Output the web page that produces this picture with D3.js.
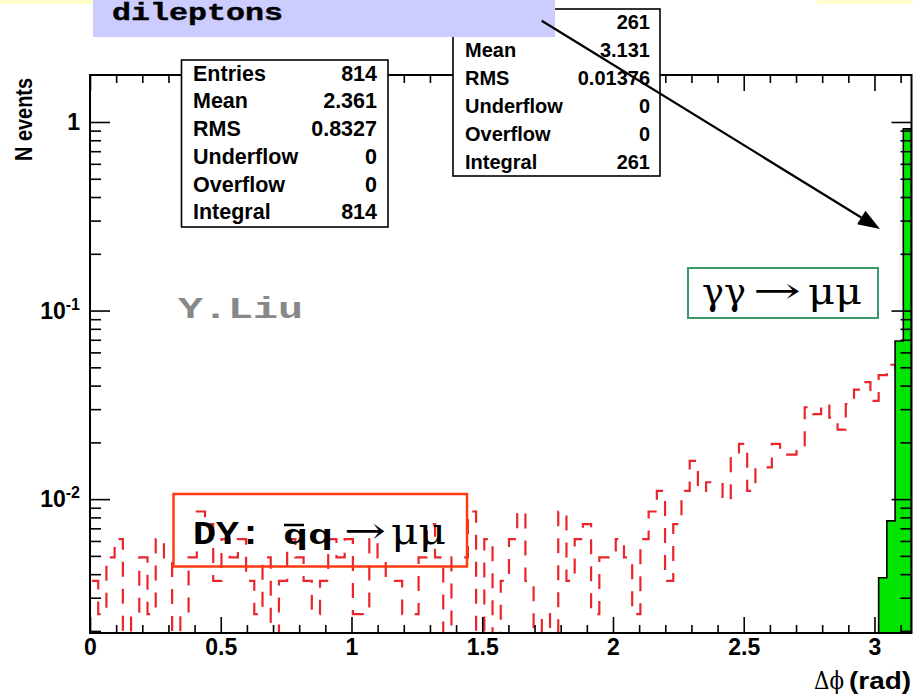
<!DOCTYPE html>
<html>
<head>
<meta charset="utf-8">
<script src="https://cdn.jsdelivr.net/npm/d3@7/dist/d3.min.js"></script>
<style>
  html, body { margin: 0; padding: 0; background: #fff; }
  svg { display: block; }
</style>
</head>
<body>
<svg id="chart" width="913" height="694"></svg>
<script>
// Azimuthal opening angle of the muon pair, 100 bins over [0, pi]
const nBins = 100;

// Drell-Yan qq -> mumu : bin contents (events per bin)
const dyCounts = [
  3, 2, 4, 5, 0, 2, 4, 2, 5, 4,
  0, 2, 4, 7, 6, 3, 5, 4, 5, 3,
  2, 4, 0, 3, 5, 4, 3, 2, 3, 5,
  4, 5, 2, 2, 5, 4, 3, 3, 2, 2,
  4, 6, 4, 0, 4, 4, 7, 0, 5, 0,
  3, 5, 7, 3, 0, 2, 0, 7, 3, 5,
  6, 2, 4, 4, 5, 4, 2, 5, 7, 9,
  3, 6, 9, 13, 9, 10, 10, 8, 14, 16,
  9, 12, 12, 16, 14, 14, 15, 25, 23, 26,
  22, 19, 26, 31, 34, 27, 37, 42, 40, 38
];
const dyEntries = 814;

// gamma gamma -> mumu : only the last bins are filled
const ggFirstBin = 96;
const ggCounts = [1, 2, 18, 240];
const ggEntries = 261;

// axis ticks
const xMajorTicks = [0, 0.5, 1, 1.5, 2, 2.5, 3];
const xTickLabels = ["0", "0.5", "1", "1.5", "2", "2.5", "3"];
const yMajorTicks = [1, 0.1, 0.01];
const yTickBase = ["1", "10", "10"];
const yTickExp = ["", "-1", "-2"];

// statistics boxes
const dyStatNames = ["Entries", "Mean", "RMS", "Underflow", "Overflow", "Integral"];
const dyStatValues = ["814", "2.361", "0.8327", "0", "0", "814"];
const ggStatNames = ["Entries", "Mean", "RMS", "Underflow", "Overflow", "Integral"];
const ggStatValues = ["261", "3.131", "0.01376", "0", "0", "261"];

const svg = d3.select("#chart");
const F = { l: 90, r: 911.5, t: 75, b: 633 };
const x = d3.scaleLinear().domain([0, Math.PI]).range([F.l, F.r]);
const y = d3.scaleLog().domain([0.00195, 1.775]).range([F.b, F.t]);

const sans = '"Liberation Sans", Arial, Helvetica, sans-serif';
const mono = '"Liberation Mono", "DejaVu Sans Mono", monospace';
const serif = '"DejaVu Serif", "Liberation Serif", serif';

// header strips
svg.append("rect").attr("x", 0).attr("y", 0).attr("width", 913).attr("height", 694).attr("fill", "#fff");
svg.append("rect").attr("x", 0).attr("y", 0).attr("width", 100).attr("height", 4).attr("fill", "#ffffcc");
svg.append("rect").attr("x", 817).attr("y", 0).attr("width", 96).attr("height", 4).attr("fill", "#ffffcc");

const binLo = i => i * Math.PI / nBins;
const yClamp = v => (v > 0 ? Math.min(F.b, y(v)) : F.b);

function outline(counts, entries, first) {
  const p = d3.path();
  p.moveTo(x(binLo(first)), F.b);
  counts.forEach((c, k) => {
    const yy = yClamp(c / entries);
    p.lineTo(x(binLo(first + k)), yy);
    p.lineTo(x(binLo(first + k + 1)), yy);
  });
  p.lineTo(x(binLo(first + counts.length)), F.b);
  return p.toString();
}

svg.append("clipPath").attr("id", "frameClip")
  .append("rect").attr("x", F.l).attr("y", F.t).attr("width", F.r - F.l).attr("height", F.b - F.t);

const plot = svg.append("g").attr("clip-path", "url(#frameClip)");

// Drell-Yan: dashed red step outline
plot.append("path")
  .attr("d", outline(dyCounts, dyEntries, 0))
  .attr("fill", "none")
  .attr("stroke", "#e8262c")
  .attr("stroke-width", 2.2)
  .attr("stroke-dasharray", "15,12");

// gamma gamma: filled green histogram
const ggPath = outline(ggCounts, ggEntries, ggFirstBin);
plot.append("path").attr("d", ggPath + "Z").attr("fill", "#00e400").attr("stroke", "none");
plot.append("path").attr("d", ggPath).attr("fill", "none").attr("stroke", "#000").attr("stroke-width", 1.6);

// ticks on all four sides, pointing inwards
function tickStyle(g) {
  g.select(".domain").remove();
  g.selectAll("line").attr("stroke", "#000").attr("stroke-width", 1.6);
}
const xMinor = d3.range(1, 32).map(k => k / 10).filter(v => Math.abs(v * 2 - Math.round(v * 2)) > 1e-6);
const yMinor = [];
[0.001, 0.01, 0.1, 1].forEach(d => {
  for (let m = 2; m <= 9; m++) {
    const v = m * d;
    if (v >= 0.00195 && v <= 1.775) yMinor.push(v);
  }
});

svg.append("g").attr("transform", `translate(0,${F.b})`)
  .call(d3.axisBottom(x).tickValues(xMinor).tickSize(-8).tickFormat(() => "")).call(tickStyle);
const xAxis = svg.append("g").attr("transform", `translate(0,${F.b})`)
  .call(d3.axisBottom(x).tickValues(xMajorTicks).tickSize(-16).tickPadding(6)
    .tickFormat(d => xTickLabels[xMajorTicks.indexOf(d)]))
  .call(tickStyle);
xAxis.selectAll("text")
  .attr("font-family", sans).attr("font-weight", "bold").attr("font-size", 23).attr("fill", "#000");

svg.append("g").attr("transform", `translate(0,${F.t})`)
  .call(d3.axisTop(x).tickValues(xMinor).tickSize(-8).tickFormat(() => "")).call(tickStyle);
svg.append("g").attr("transform", `translate(0,${F.t})`)
  .call(d3.axisTop(x).tickValues(xMajorTicks).tickSize(-16).tickFormat(() => "")).call(tickStyle);

svg.append("g").attr("transform", `translate(${F.l},0)`)
  .call(d3.axisLeft(y).tickValues(yMinor).tickSize(-11).tickFormat(() => "")).call(tickStyle);
svg.append("g").attr("transform", `translate(${F.l},0)`)
  .call(d3.axisLeft(y).tickValues(yMajorTicks).tickSize(-20).tickFormat(() => "")).call(tickStyle);
svg.append("g").attr("transform", `translate(${F.r},0)`)
  .call(d3.axisRight(y).tickValues(yMinor).tickSize(-11).tickFormat(() => "")).call(tickStyle);
svg.append("g").attr("transform", `translate(${F.r},0)`)
  .call(d3.axisRight(y).tickValues(yMajorTicks).tickSize(-20).tickFormat(() => "")).call(tickStyle);

// frame
svg.append("rect").attr("x", F.l).attr("y", F.t).attr("width", F.r - F.l).attr("height", F.b - F.t)
  .attr("fill", "none").attr("stroke", "#000").attr("stroke-width", 2);

// y tick labels with exponents
yMajorTicks.forEach((v, i) => {
  const t = svg.append("text")
    .attr("x", 80).attr("y", y(v)).attr("dy", "0.36em")
    .attr("text-anchor", "end")
    .attr("font-family", sans).attr("font-weight", "bold").attr("font-size", 23).attr("fill", "#000");
  t.append("tspan").text(yTickBase[i]);
  if (yTickExp[i]) t.append("tspan").attr("dy", -9).attr("font-size", 16).text(yTickExp[i]);
});

// axis titles
svg.append("text")
  .attr("transform", `translate(32,78) rotate(-90)`)
  .attr("text-anchor", "end")
  .attr("textLength", 83).attr("lengthAdjust", "spacingAndGlyphs")
  .attr("font-family", sans).attr("font-weight", "bold").attr("font-size", 23)
  .text("N events");

svg.append("text")
  .attr("x", 814).attr("y", 689)
  .attr("textLength", 30).attr("lengthAdjust", "spacingAndGlyphs")
  .attr("font-family", serif).attr("font-size", 24).text("Δϕ");
svg.append("text")
  .attr("x", 849).attr("y", 689)
  .attr("textLength", 62).attr("lengthAdjust", "spacingAndGlyphs")
  .attr("font-family", sans).attr("font-weight", "bold").attr("font-size", 23).text("(rad)");

// statistics boxes
function statBox(names, values, bx, by, bw, bh, padL, padR, row0, rowStep, fs) {
  const g = svg.append("g");
  g.append("rect").attr("x", bx).attr("y", by).attr("width", bw).attr("height", bh)
    .attr("fill", "#fff").attr("stroke", "#000").attr("stroke-width", 1.6);
  names.forEach((n, i) => {
    const yy = row0 + i * rowStep;
    g.append("text").attr("x", bx + padL).attr("y", yy).attr("dy", "0.36em")
      .attr("font-family", sans).attr("font-weight", "bold").attr("font-size", fs).text(n);
    g.append("text").attr("x", bx + bw - padR).attr("y", yy).attr("dy", "0.36em")
      .attr("text-anchor", "end")
      .attr("font-family", sans).attr("font-weight", "bold").attr("font-size", fs).text(values[i]);
  });
}
statBox(dyStatNames, dyStatValues, 181.5, 60, 206.5, 167, 11.5, 11, 73, 27.7, 21.5);
statBox(ggStatNames, ggStatValues, 453, 9, 207, 167, 12, 10, 22, 28, 20);

// author tag
svg.append("text")
  .attr("x", 178).attr("y", 318)
  .attr("textLength", 125).attr("lengthAdjust", "spacingAndGlyphs")
  .attr("font-family", mono).attr("font-weight", "bold").attr("font-size", 30)
  .attr("fill", "#888").text("Y.Liu");

// gamma gamma label
svg.append("rect").attr("x", 688).attr("y", 268).attr("width", 190).attr("height", 50)
  .attr("fill", "#fff").attr("stroke", "#3a9a6c").attr("stroke-width", 2);
svg.append("text").attr("x", 702).attr("y", 304)
  .attr("textLength", 44).attr("lengthAdjust", "spacingAndGlyphs")
  .attr("font-family", serif).attr("font-size", 38).text("γγ");
svg.append("text").attr("x", 753).attr("y", 303)
  .attr("textLength", 48).attr("lengthAdjust", "spacingAndGlyphs")
  .attr("font-family", serif).attr("font-size", 36).text("→");
svg.append("text").attr("x", 808).attr("y", 304)
  .attr("textLength", 54).attr("lengthAdjust", "spacingAndGlyphs")
  .attr("font-family", serif).attr("font-size", 38).text("μμ");

// Drell-Yan label
svg.append("rect").attr("x", 173.5).attr("y", 494).attr("width", 293.5).attr("height", 72.5)
  .attr("fill", "none").attr("stroke", "#ff3a10").attr("stroke-width", 2.5);
svg.append("text").attr("x", 193).attr("y", 544)
  .attr("textLength", 69).attr("lengthAdjust", "spacingAndGlyphs")
  .attr("font-family", mono).attr("font-weight", "bold").attr("font-size", 34).text("DY:");
svg.append("text").attr("x", 283).attr("y", 544)
  .attr("textLength", 50).attr("lengthAdjust", "spacingAndGlyphs")
  .attr("font-family", mono).attr("font-weight", "bold").attr("font-size", 28).text("qq");
svg.append("line").attr("x1", 284).attr("x2", 304).attr("y1", 525).attr("y2", 525)
  .attr("stroke", "#000").attr("stroke-width", 2.5);
svg.append("text").attr("x", 344).attr("y", 543)
  .attr("textLength", 42).attr("lengthAdjust", "spacingAndGlyphs")
  .attr("font-family", serif).attr("font-size", 36).text("→");
svg.append("text").attr("x", 391).attr("y", 544)
  .attr("textLength", 55).attr("lengthAdjust", "spacingAndGlyphs")
  .attr("font-family", serif).attr("font-size", 38).text("μμ");

// slide title box
svg.append("rect").attr("x", 93).attr("y", 0).attr("width", 462).attr("height", 37).attr("fill", "#ccccff");
svg.append("text").attr("x", 112).attr("y", 20)
  .attr("textLength", 171).attr("lengthAdjust", "spacingAndGlyphs")
  .attr("font-family", mono).attr("font-weight", "bold").attr("font-size", 24)
  .attr("stroke", "#000").attr("stroke-width", 0.4).text("dileptons");

// arrow pointing at the gamma gamma peak
const a0 = [541.7, 20.7], a1 = [880, 229];
const len = Math.hypot(a1[0] - a0[0], a1[1] - a0[1]);
const ux = (a1[0] - a0[0]) / len, uy = (a1[1] - a0[1]) / len;
const headL = 22, headW = 8;
const bxm = a1[0] - headL * ux, bym = a1[1] - headL * uy;
svg.append("line").attr("x1", a0[0]).attr("y1", a0[1]).attr("x2", bxm).attr("y2", bym)
  .attr("stroke", "#000").attr("stroke-width", 2.2);
svg.append("path")
  .attr("d", `M${a1[0]},${a1[1]}L${bxm - headW * uy},${bym + headW * ux}L${bxm + headW * uy},${bym - headW * ux}Z`)
  .attr("fill", "#000");
</script>
</body>
</html>
